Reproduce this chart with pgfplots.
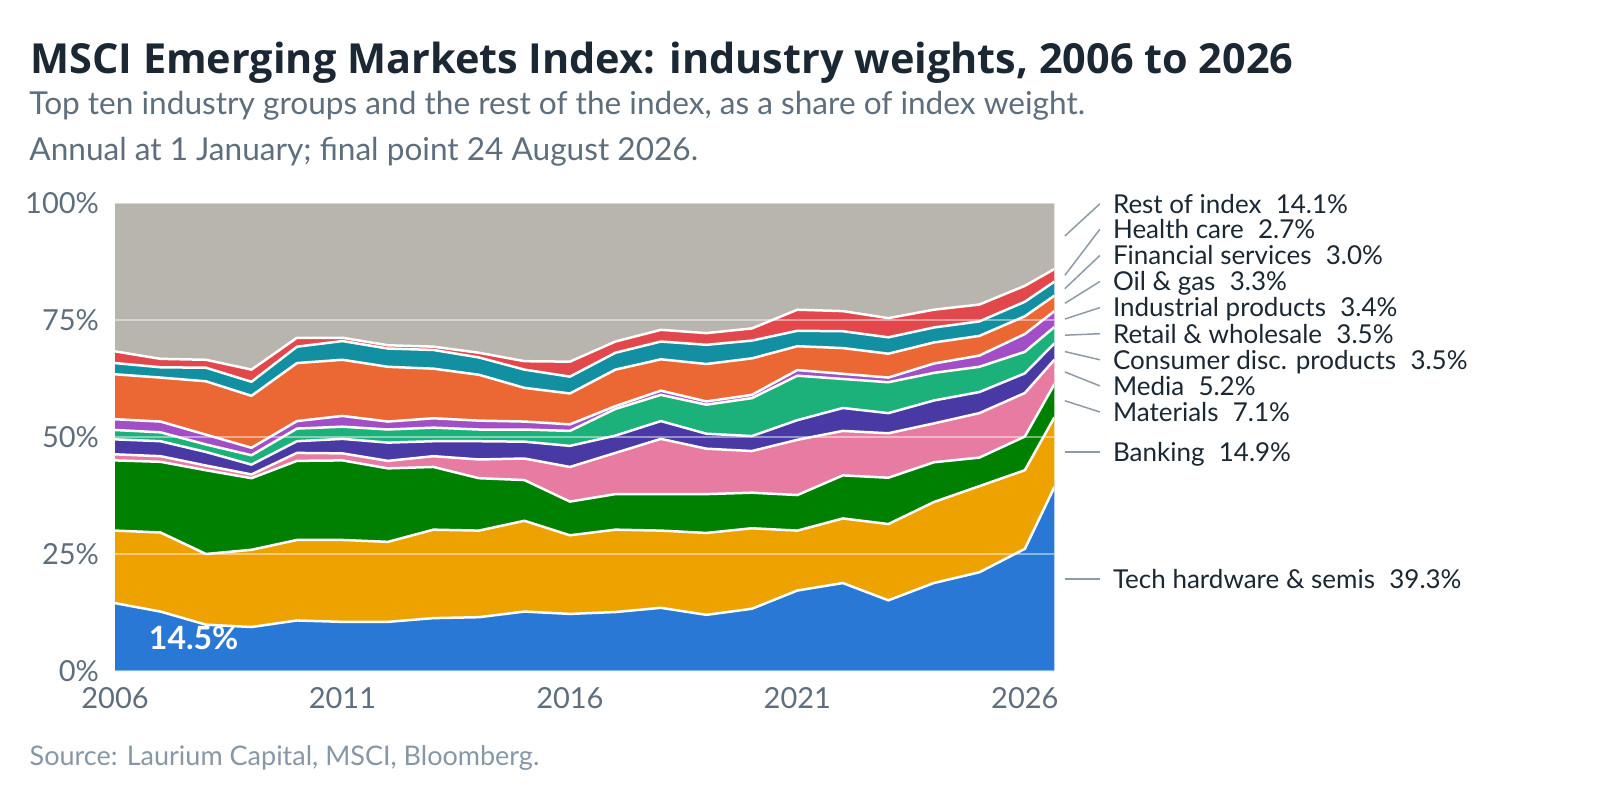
\documentclass[border=0pt]{standalone}
\usepackage{fontspec}
\setmainfont{Lato}
\newfontfamily\titlefont{Open Sans}
\usepackage{graphicx}
\usepackage{pgfplots}
\pgfplotsset{compat=1.18}
\usepackage{pgfplotstable}

\definecolor{ctech}{RGB}{42,120,214}
\definecolor{cbank}{RGB}{237,162,0}
\definecolor{cmat}{RGB}{0,128,0}
\definecolor{cmedia}{RGB}{232,123,161}
\definecolor{ccons}{RGB}{73,57,165}
\definecolor{cretail}{RGB}{28,176,123}
\definecolor{cind}{RGB}{162,79,199}
\definecolor{coil}{RGB}{235,104,53}
\definecolor{cfin}{RGB}{18,143,160}
\definecolor{chealth}{RGB}{226,71,75}
\definecolor{crest}{RGB}{184,180,174}
\definecolor{titlec}{RGB}{27,39,50}
\definecolor{subc}{RGB}{94,110,125}
\definecolor{srcc}{RGB}{136,151,165}
\definecolor{leadc}{RGB}{141,155,168}

% shares of index weight, %
\pgfplotstableread{
year    tech bank mat  media cons retail ind oil  fin health rest
2006    14.5 15.5 15.0 1.3  3.2  2.0  2.3  9.6  2.4  2.5  31.7
2007    12.7 16.9 15.1 1.2  3.2  1.9  2.3  9.4  2.2  1.8  33.3
2008    9.9  15.1 17.9 1.0  2.9  1.6  2.1  11.4 2.9  1.7  33.5
2009    9.4  16.5 15.3 0.8  2.1  2.0  1.6  11.1 3.0  2.6  35.6
2010    10.8 17.2 16.9 1.7  2.5  2.7  1.6  12.4 3.5  1.9  28.8
2011    10.5 17.5 17.0 1.5  3.1  2.6  2.3  12.0 4.0  0.7  28.8
2012    10.5 17.1 15.7 1.6  3.9  2.8  1.7  11.7 3.9  0.7  30.4
2013    11.3 18.9 13.4 2.3  3.2  2.9  2.0  10.6 4.0  0.7  30.7
2014    11.5 18.5 11.2 4.0  3.9  2.5  1.9  9.8  3.7  1.0  32.0
2015    12.7 19.4 8.7  4.6  3.6  2.6  1.7  7.2  3.9  1.8  33.8
2016    12.2 16.8 7.2  7.4  4.5  3.2  1.4  6.6  3.6  3.2  33.9
2017    12.6 17.6 7.6  8.8  3.7  5.7  0.6  7.8  3.6  2.4  29.6
2018    13.5 16.5 7.8  11.8 3.8  5.6  0.9  6.7  3.8  2.5  27.1
2019    12.0 17.5 8.3  9.7  3.2  6.2  0.7  8.0  4.1  2.5  27.8
2020    13.3 17.2 7.6  8.9  3.2  8.1  0.7  7.8  3.8  2.6  26.8
2021    17.2 12.8 7.6  11.8 4.2  9.5  1.2  5.1  3.3  4.5  22.8
2022    18.8 13.8 9.2  9.5  4.9  6.2  1.1  5.5  3.6  4.3  23.1
2023    15.1 16.3 9.9  9.5  4.3  6.6  1.0  5.1  3.5  4.1  24.6
2024    18.8 17.3 8.5  8.3  4.9  5.9  2.0  4.5  3.2  3.8  22.8
2025    21.1 18.4 6.1  9.5  4.5  5.4  2.4  4.2  3.1  3.6  21.7
2026    26.1 16.8 7.2  9.3  4.2  4.6  3.8  3.8  3.1  3.4  17.7
2026.65 39.3 14.9 7.1  5.2  3.5  3.5  3.4  3.3  3.0  2.7  14.1
}\emdata

\pgfplotsset{emaxis/.style={
  scale only axis, width=469.7pt, height=234pt,
  at={(57.5pt,64.5pt)}, anchor=south west,
  xmin=2006, xmax=2026.65, ymin=0, ymax=100,
}}

\begin{document}
\begin{tikzpicture}[x=1pt,y=1pt]
\path[use as bounding box] (0,0) rectangle (800,400);

\node[anchor=base west, inner sep=0pt, text=titlec] at (15,363.35)
  {\resizebox{631.5pt}{!}{\titlefont\fontsize{20}{24}\selectfont\bfseries MSCI Emerging Markets Index: industry weights, 2006 to 2026}};
\node[anchor=base west, inner sep=0pt, text=subc,
  font=\fontsize{15.8}{18}\selectfont] at (14.5,342.5)
  {Top ten industry groups and the rest of the index, as a share of index weight.};
\node[anchor=base west, inner sep=0pt, text=subc,
  font=\fontsize{15.8}{18}\selectfont] at (14.5,320)
  {Annual at 1 January; final point 24 August 2026.};
\node[anchor=base west, inner sep=0pt, text=srcc,
  font=\fontsize{13.5}{16}\selectfont] at (14.65,17.15)
  {Source: Laurium Capital, MSCI, Bloomberg.};

\begin{axis}[emaxis, hide axis, stack plots=y]
  \addplot[fill=ctech,   draw=none] table[x=year,y=tech]{\emdata} \closedcycle;
  \addplot[fill=cbank,   draw=none] table[x=year,y=bank]{\emdata} \closedcycle;
  \addplot[fill=cmat,    draw=none] table[x=year,y=mat]{\emdata} \closedcycle;
  \addplot[fill=cmedia,  draw=none] table[x=year,y=media]{\emdata} \closedcycle;
  \addplot[fill=ccons,   draw=none] table[x=year,y=cons]{\emdata} \closedcycle;
  \addplot[fill=cretail, draw=none] table[x=year,y=retail]{\emdata} \closedcycle;
  \addplot[fill=cind,    draw=none] table[x=year,y=ind]{\emdata} \closedcycle;
  \addplot[fill=coil,    draw=none] table[x=year,y=oil]{\emdata} \closedcycle;
  \addplot[fill=cfin,    draw=none] table[x=year,y=fin]{\emdata} \closedcycle;
  \addplot[fill=chealth, draw=none] table[x=year,y=health]{\emdata} \closedcycle;
  \addplot[fill=crest,   draw=none] table[x=year,y=rest]{\emdata} \closedcycle;
\end{axis}

\begin{axis}[emaxis, hide axis, stack plots=y]
  \addplot[white, line width=1.25pt, line join=round, mark=none] table[x=year,y=tech]{\emdata};
  \addplot[white, line width=1.25pt, line join=round, mark=none] table[x=year,y=bank]{\emdata};
  \addplot[white, line width=1.25pt, line join=round, mark=none] table[x=year,y=mat]{\emdata};
  \addplot[white, line width=1.25pt, line join=round, mark=none] table[x=year,y=media]{\emdata};
  \addplot[white, line width=1.25pt, line join=round, mark=none] table[x=year,y=cons]{\emdata};
  \addplot[white, line width=1.25pt, line join=round, mark=none] table[x=year,y=retail]{\emdata};
  \addplot[white, line width=1.25pt, line join=round, mark=none] table[x=year,y=ind]{\emdata};
  \addplot[white, line width=1.25pt, line join=round, mark=none] table[x=year,y=oil]{\emdata};
  \addplot[white, line width=1.25pt, line join=round, mark=none] table[x=year,y=fin]{\emdata};
  \addplot[white, line width=1.25pt, line join=round, mark=none] table[x=year,y=health]{\emdata};
\end{axis}

\begin{axis}[emaxis, clip=false,
  axis line style={draw=none},
  major tick length=0pt,
  xtick={2006,2011,2016,2021,2026},
  xticklabels={2006,2011,2016,2021,2026},
  ytick={0,25,50,75,100},
  yticklabels={0\%,25\%,50\%,75\%,100\%},
  ymajorgrids,
  grid style={white, opacity=0.45, line width=0.6pt},
  tick label style={font=\fontsize{14.5}{17}\selectfont, text=subc, inner sep=0pt},
  xticklabel style={anchor=north, yshift=-7.85pt},
  yticklabel style={anchor=east, xshift=-7.85pt},
]
  \node[text=white, font=\fontsize{16}{19}\selectfont\bfseries, inner sep=0pt]
    at (axis cs:2007.73,7.05) {14.5\%};

  \draw[leadc, line width=0.75pt] (axis cs:2026.88,92.95) -- (axis cs:2027.65,99.83);
  \draw[leadc, line width=0.75pt] (axis cs:2026.88,84.55) -- (axis cs:2027.65,94.38);
  \draw[leadc, line width=0.75pt] (axis cs:2026.88,81.70) -- (axis cs:2027.65,88.80);
  \draw[leadc, line width=0.75pt] (axis cs:2026.88,78.55) -- (axis cs:2027.65,83.23);
  \draw[leadc, line width=0.75pt] (axis cs:2026.88,75.20) -- (axis cs:2027.65,77.65);
  \draw[leadc, line width=0.75pt] (axis cs:2026.88,71.75) -- (axis cs:2027.65,72.07);
  \draw[leadc, line width=0.75pt] (axis cs:2026.88,68.25) -- (axis cs:2027.65,66.50);
  \draw[leadc, line width=0.75pt] (axis cs:2026.88,63.90) -- (axis cs:2027.65,60.92);
  \draw[leadc, line width=0.75pt] (axis cs:2026.88,57.75) -- (axis cs:2027.65,55.34);
  \draw[leadc, line width=0.75pt] (axis cs:2026.88,46.75) -- (axis cs:2027.65,46.75);
  \draw[leadc, line width=0.75pt] (axis cs:2026.88,19.65) -- (axis cs:2027.65,19.65);

  \node[anchor=base west, inner sep=0pt, text=titlec, font=\fontsize{13}{15}\selectfont] at (axis cs:2027.93,97.84) {Rest of index\hspace{0.55em}14.1\%};
  \node[anchor=base west, inner sep=0pt, text=titlec, font=\fontsize{13}{15}\selectfont] at (axis cs:2027.93,92.39) {Health care\hspace{0.55em}2.7\%};
  \node[anchor=base west, inner sep=0pt, text=titlec, font=\fontsize{13}{15}\selectfont] at (axis cs:2027.93,86.81) {Financial services\hspace{0.55em}3.0\%};
  \node[anchor=base west, inner sep=0pt, text=titlec, font=\fontsize{13}{15}\selectfont] at (axis cs:2027.93,81.24) {Oil \& gas\hspace{0.55em}3.3\%};
  \node[anchor=base west, inner sep=0pt, text=titlec, font=\fontsize{13}{15}\selectfont] at (axis cs:2027.93,75.66) {Industrial products\hspace{0.55em}3.4\%};
  \node[anchor=base west, inner sep=0pt, text=titlec, font=\fontsize{13}{15}\selectfont] at (axis cs:2027.93,70.08) {Retail \& wholesale\hspace{0.55em}3.5\%};
  \node[anchor=base west, inner sep=0pt, text=titlec, font=\fontsize{13}{15}\selectfont] at (axis cs:2027.93,64.51) {Consumer disc. products\hspace{0.55em}3.5\%};
  \node[anchor=base west, inner sep=0pt, text=titlec, font=\fontsize{13}{15}\selectfont] at (axis cs:2027.93,58.93) {Media\hspace{0.55em}5.2\%};
  \node[anchor=base west, inner sep=0pt, text=titlec, font=\fontsize{13}{15}\selectfont] at (axis cs:2027.93,53.35) {Materials\hspace{0.55em}7.1\%};
  \node[anchor=base west, inner sep=0pt, text=titlec, font=\fontsize{13}{15}\selectfont] at (axis cs:2027.93,44.76) {Banking\hspace{0.55em}14.9\%};
  \node[anchor=base west, inner sep=0pt, text=titlec, font=\fontsize{13}{15}\selectfont] at (axis cs:2027.93,17.66) {Tech hardware \& semis\hspace{0.55em}39.3\%};
\end{axis}
\end{tikzpicture}
\end{document}
